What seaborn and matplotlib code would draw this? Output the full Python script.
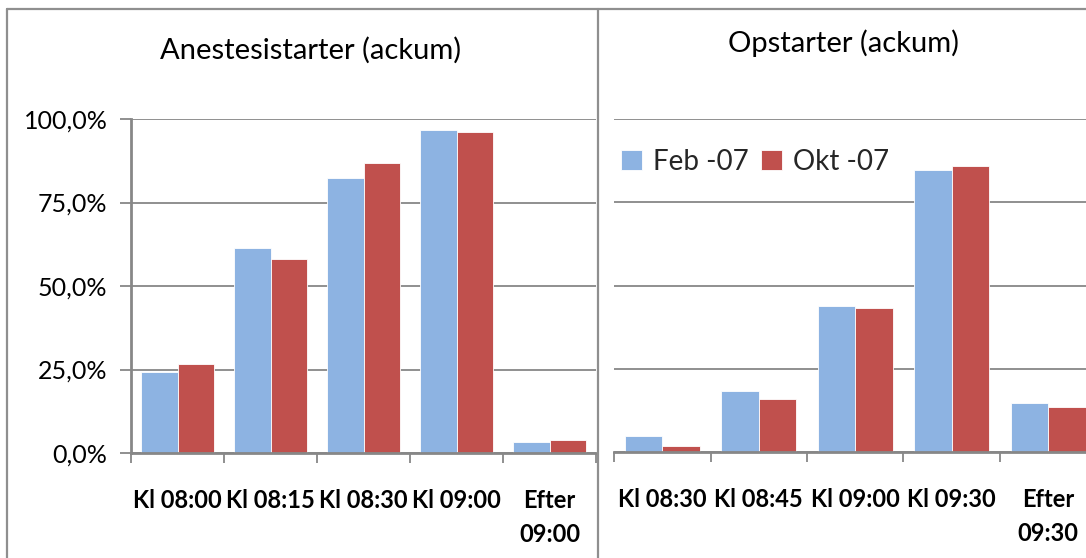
import matplotlib
matplotlib.use("Agg")
import matplotlib.pyplot as plt
import seaborn as sns
import pandas as pd
from matplotlib.ticker import FuncFormatter, FixedLocator
from matplotlib.lines import Line2D

# ---- data ----
series = ["Feb -07", "Okt -07"]
left_title = "Anestesistarter (ackum)"
left_cats = ["Kl 08:00", "Kl 08:15", "Kl 08:30", "Kl 09:00", "Efter\n09:00"]
left_feb = [24.2, 61.4, 82.4, 96.7, 3.2]
left_okt = [26.7, 58.2, 86.8, 96.1, 3.8]

right_title = "Opstarter (ackum)"
right_cats = ["Kl 08:30", "Kl 08:45", "Kl 09:00", "Kl 09:30", "Efter\n09:30"]
right_feb = [4.7, 18.4, 43.8, 84.7, 14.7]
right_okt = [1.7, 15.9, 43.2, 86.0, 13.5]

yticks = [0, 25, 50, 75, 100]

colors = {"Feb -07": "#8DB3E2", "Okt -07": "#C0504D"}
gray = "#878787"

sns.set_theme(style="white")
plt.rcParams["font.family"] = ["Lato", "DejaVu Sans"]

W, H = 1086, 558
fig = plt.figure(figsize=(W / 100, H / 100), dpi=100)

def px_axes(x0, x1, ytop, ybot):
    return fig.add_axes([x0 / W, (H - ybot) / H, (x1 - x0) / W, (ybot - ytop) / H])

def long_df(cats, feb, okt):
    rows = []
    for c, a, b in zip(cats, feb, okt):
        rows.append({"cat": c, "series": series[0], "val": a})
        rows.append({"cat": c, "series": series[1], "val": b})
    return pd.DataFrame(rows)

def draw(ax, cats, feb, okt, show_y):
    df = long_df(cats, feb, okt)
    sns.barplot(data=df, x="cat", y="val", hue="series", order=cats,
                hue_order=series, palette=colors, width=0.78,
                edgecolor="white", linewidth=0.6, saturation=1,
                legend=show_y is False, ax=ax)
    ax.set_xlim(-0.5, len(cats) - 0.5)
    ax.set_ylim(0, 100)
    ax.set_yticks(yticks)
    ax.yaxis.set_major_formatter(FuncFormatter(lambda v, p: f"{v:.1f}%".replace(".", ",")))
    ax.grid(axis="y", color=gray, linewidth=1.3)
    ax.set_axisbelow(True)
    ax.set_xlabel("")
    ax.set_ylabel("")
    for s in ["top", "right"]:
        ax.spines[s].set_visible(False)
    ax.spines["bottom"].set_color(gray)
    ax.spines["bottom"].set_linewidth(2.0)
    ax.xaxis.set_minor_locator(FixedLocator([i - 0.5 for i in range(len(cats) + 1)]))
    ax.tick_params(axis="x", which="minor", length=7, width=1.3, color=gray, bottom=True, direction="out")
    ax.tick_params(axis="x", which="major", length=0, pad=26)
    for lbl in ax.get_xticklabels():
        lbl.set_fontweight("bold")
        lbl.set_fontsize(17)
        lbl.set_linespacing(1.55)
        lbl.set_color("black")
    if show_y:
        ax.spines["left"].set_color(gray)
        ax.spines["left"].set_linewidth(2.0)
        ax.tick_params(axis="y", length=8, width=1.3, color=gray, left=True, pad=9, labelsize=18, labelcolor="black")
    else:
        ax.spines["left"].set_visible(False)
        ax.tick_params(axis="y", left=False, labelleft=False)

axL = px_axes(131, 596, 119, 453)
draw(axL, left_cats, left_feb, left_okt, True)

axR = px_axes(614, 614 + 5 * 96.5, 119, 452)
draw(axR, right_cats, right_feb, right_okt, False)
leg = axR.legend(loc="upper left", bbox_to_anchor=(621 / W, (H - 149) / H),
                 bbox_transform=fig.transFigure, ncol=2, frameon=False,
                 handlelength=0.75, handleheight=0.75, handletextpad=0.4,
                 columnspacing=0.45, fontsize=20, borderpad=0, borderaxespad=0)

fig.text(311 / W, 1 - 50 / H, left_title, ha="center", va="center", fontsize=21, color="black")
fig.text(844 / W, 1 - 43 / H, right_title, ha="center", va="center", fontsize=21, color="black")

# panel borders
for (x0, y0, x1, y1) in [(7, 9, W, 9), (7, 9, 7, H), (598, 9, 598, H)]:
    fig.add_artist(Line2D([x0 / W, x1 / W], [1 - y0 / H, 1 - y1 / H],
                          transform=fig.transFigure, color="#8f8f8f", linewidth=1.6))

fig.savefig("out.png", dpi=100)
